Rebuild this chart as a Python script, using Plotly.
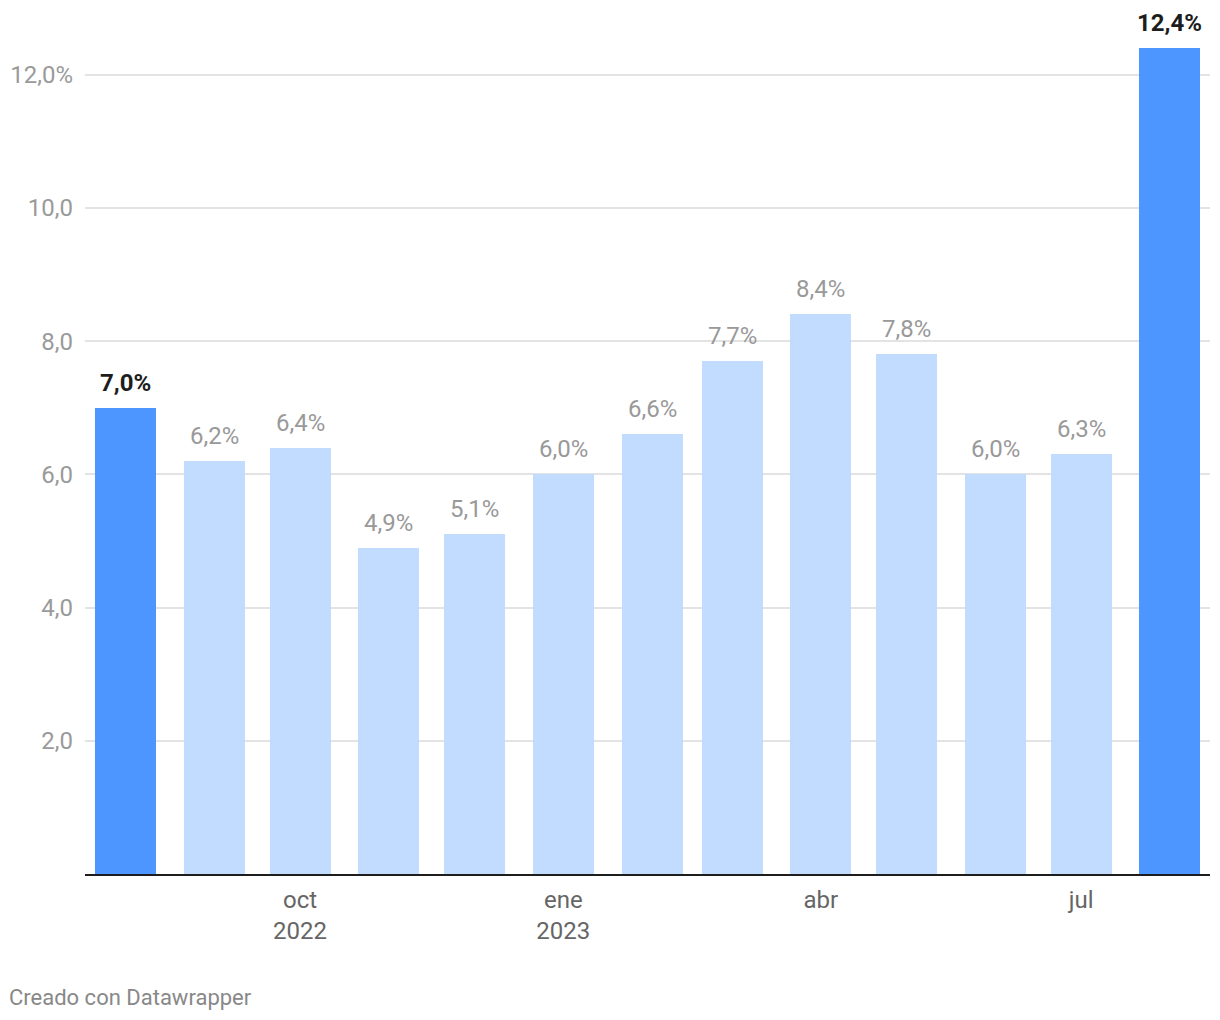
import plotly.graph_objects as go

months = ["2022-08-01", "2022-09-01", "2022-10-01", "2022-11-01", "2022-12-01",
          "2023-01-01", "2023-02-01", "2023-03-01", "2023-04-01", "2023-05-01",
          "2023-06-01", "2023-07-01", "2023-08-01"]
values = [7.0, 6.2, 6.4, 4.9, 5.1, 6.0, 6.6, 7.7, 8.4, 7.8, 6.0, 6.3, 12.4]
highlight = [True, False, False, False, False, False, False, False, False, False, False, False, True]

xtick_vals = ["2022-10-01", "2023-01-01", "2023-04-01", "2023-07-01"]
xtick_text = ["oct<br>2022", "ene<br>2023", "abr", "jul"]
ytick_vals = [2, 4, 6, 8, 10, 12]
ytick_text = ["2,0", "4,0", "6,0", "8,0", "10,0", "12,0%"]

DARK = "#4e96ff"
LIGHT = "#c2dcff"
FONT = "Roboto"

def fmt(v):
    return f"{v:.1f}".replace(".", ",") + "%"

colors = [DARK if h else LIGHT for h in highlight]
day_ms = 86400000

fig = go.Figure()
fig.add_trace(go.Bar(
    x=months, y=values, marker=dict(color=colors, line=dict(width=0)),
    width=[21.3 * day_ms] * len(values), hoverinfo="skip", cliponaxis=False,
))

for m, v, h in zip(months, values, highlight):
    fig.add_annotation(
        x=m, y=v, xref="x", yref="y", text=f"<b>{fmt(v)}</b>" if h else fmt(v),
        showarrow=False, yanchor="bottom", xanchor="center", yshift=9,
        font=dict(family=FONT, size=24, color="#1d1d1d" if h else "#999999"),
    )

fig.add_annotation(
    x=0, y=0, xref="paper", yref="paper", text="Creado con Datawrapper",
    showarrow=False, xanchor="left", yanchor="bottom", xshift=-78, yshift=-138,
    font=dict(family=FONT, size=22, color="#888888"),
)

fig.update_layout(
    width=1220, height=1020,
    margin=dict(l=77, r=18, t=40, b=154, autoexpand=False),
    paper_bgcolor="white", plot_bgcolor="white",
    showlegend=False, bargap=0,
    font=dict(family=FONT, size=24, color="#666666"),
    xaxis=dict(
        type="date", range=["2022-07-17 20:00", "2023-08-15 00:00"],
        tickvals=xtick_vals, ticktext=xtick_text, tickmode="array",
        showgrid=False, zeroline=False, showline=True, linecolor="#1d1d1d", linewidth=2,
        ticks="", ticklabelstandoff=3, tickfont=dict(family=FONT, size=24, color="#666666"),
        fixedrange=True, automargin=False,
    ),
    yaxis=dict(
        range=[0, 12.4], tickvals=ytick_vals, ticktext=ytick_text, tickmode="array",
        showgrid=True, gridcolor="#e3e3e3", gridwidth=1.5, zeroline=False, showline=False,
        ticks="", ticklabelstandoff=11,
        tickfont=dict(family=FONT, size=24, color="#9a9a9a"),
        fixedrange=True, automargin=False,
    ),
)

fig.write_html("out.html")
